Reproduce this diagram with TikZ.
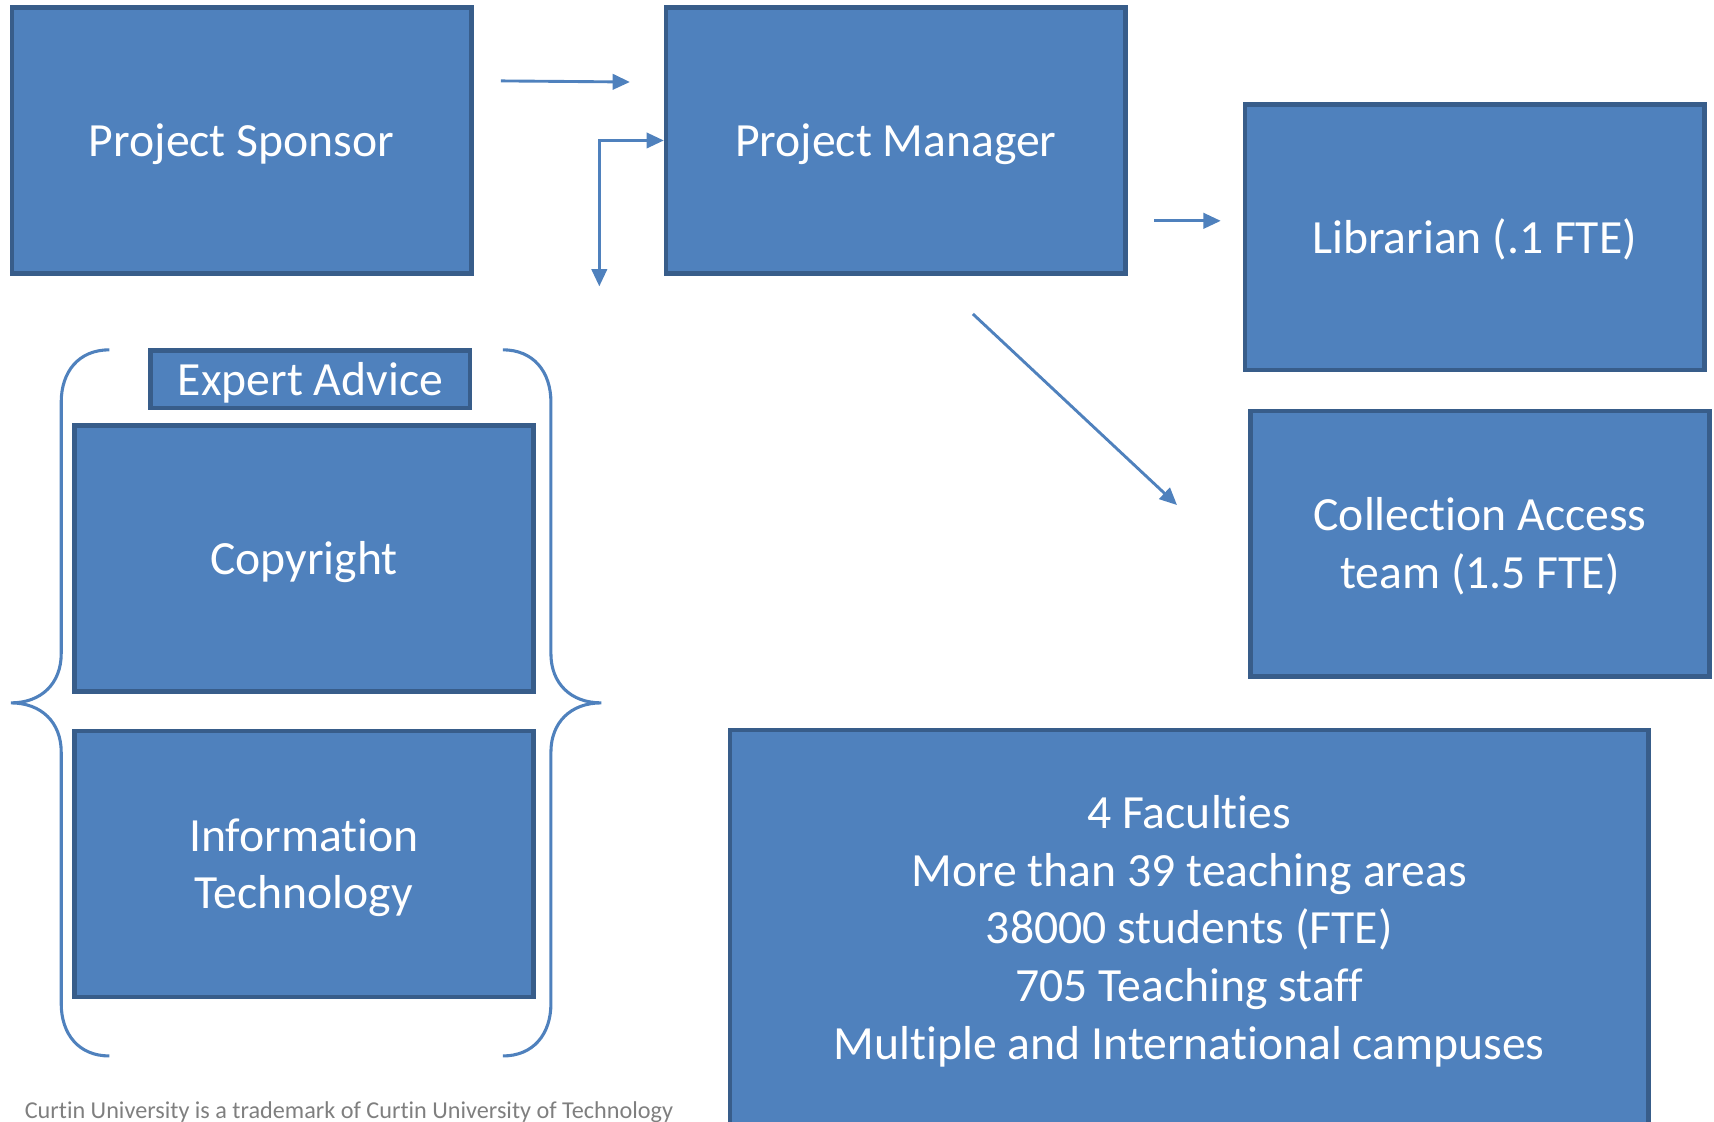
\documentclass[tikz,border=0pt]{standalone}
\usepackage{fontspec}
\setmainfont{Carlito}[Ligatures=NoCommon]
\usetikzlibrary{calc,positioning}
\usetikzlibrary{arrows.meta}
\definecolor{boxfill}{HTML}{4F81BD}
\definecolor{boxline}{HTML}{385D8A}
\definecolor{notegray}{HTML}{7F7F7F}
% box text, set a little lower than the middle
\newcommand{\boxtext}[1]{\raisebox{-0.04cm}[\height][\depth]{\begin{tabular}{@{}c@{}}#1\end{tabular}}}
\tikzset{
    >={Triangle[length=4.5pt,width=4pt]}, % filled arrow heads
    box/.style={draw=boxline, fill=boxfill, line width=1.2pt, text=white,
        inner sep=1pt, minimum width=4.2cm, minimum height=2.43cm,
        font=\fontsize{12.4pt}{15pt}\selectfont}, % the blue boxes
    link/.style={draw=boxfill, line width=0.75pt, ->}, % the connectors
    brace/.style={draw=boxfill, line width=0.8pt}, % the curly brackets
}

\begin{document}
\begin{tikzpicture}[x=0.01cm, y=-0.01cm]
  \useasboundingbox (0,0) rectangle (1568,1026);

  % top row
  \node[box] (PS)  at (221,128.5)  {\boxtext{Project Sponsor}};
  \node[box] (PM)  at (819.5,128.5) {\boxtext{Project Manager}};
  \node[box] (Lib) at (1349,217)    {\boxtext{Librarian (.1 FTE)}};
  \node[box] (CA)  at (1354,497.5)  {\boxtext{Collection Access\\team (1.5 FTE)}};

  % expert advice group
  \node[box, inner sep=0pt, minimum width=2.92cm, minimum height=0.52cm] (EA) at (284,347) {\boxtext{Expert Advice}};
  \node[box] (CR) at (278,511)       {\boxtext{Copyright}};
  \node[box] (IT) [below=0.32cm of CR] {\boxtext{Information\\Technology}};

  \node[box, minimum width=8.4cm, minimum height=3.62cm] (Fac) at (1088,849)
    {\boxtext{4 Faculties\\More than 39 teaching areas\\38000 students (FTE)\\705 Teaching staff\\Multiple and International campuses}};

  \node[anchor=base west, inner sep=0pt, text=notegray,
        font=\fontsize{6.3pt}{7.5pt}\selectfont] (note) at (22,1023)
    {Curtin University is a trademark of Curtin University of Technology};

  % brackets round the expert advice
  \draw[brace] (100,320) .. controls (72,320) and (56,340) .. (56,368) -- (56,598)
    .. controls (56,625) and (38,643) .. (10,643)
    .. controls (38,643) and (56,661) .. (56,688) -- (56,918)
    .. controls (56,946) and (72,966) .. (100,966);
  \draw[brace] (460,320) .. controls (488,320) and (504,340) .. (504,368) -- (504,598)
    .. controls (504,625) and (522,643) .. (550,643)
    .. controls (522,643) and (504,661) .. (504,688) -- (504,918)
    .. controls (504,946) and (488,966) .. (460,966);

  % connectors
  \draw[link] ($(PS.east)+(25,-54.5)$) -- ($(PM.west)+(-31,-53.5)$);
  \draw[link, <->] (PM.west) -| ($(PM.west)+(-59,133.5)$);
  \draw[link] ($(PM.east)+(24,73.5)$) -- ($(Lib.west)+(-20,-15)$);
  \draw[link] ($(PM.south)+(70.5,35)$) -- ($(CA.west)+(-65,-35.5)$);
\end{tikzpicture}
\end{document}
